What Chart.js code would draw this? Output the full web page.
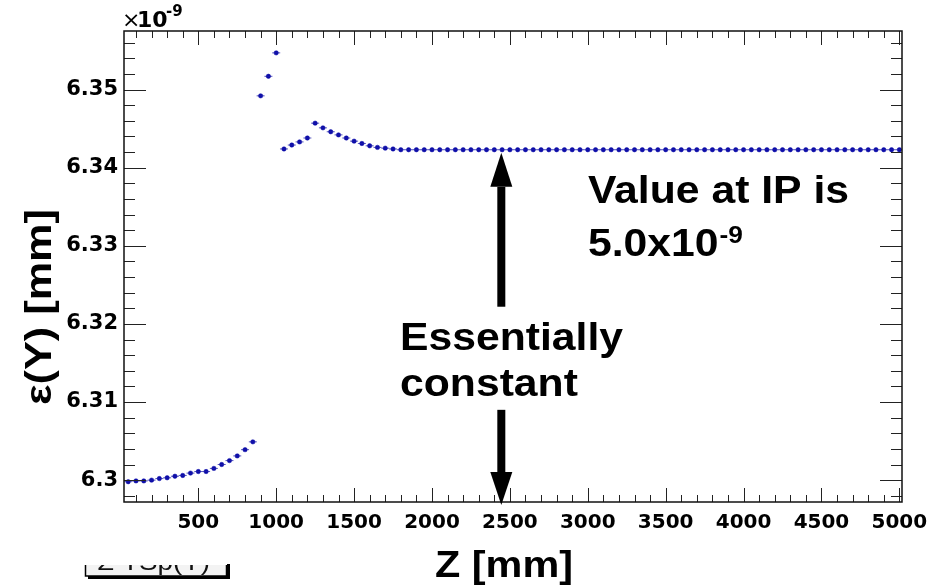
<!DOCTYPE html>
<html>
<head>
<meta charset="utf-8">
<script src="https://cdn.jsdelivr.net/npm/chart.js@4.4.1/dist/chart.umd.min.js"></script>
<style>
  html, body { margin: 0; padding: 0; background: #fff; }
</style>
</head>
<body>
<canvas id="myChart" width="941" height="588"></canvas>
<script>
// position along the beam line (mm)
var zMm = [
  50, 100, 150, 200, 250, 300, 350, 400, 450, 500,
  550, 600, 650, 700, 750, 800, 850, 900, 950, 1000,
  1050, 1100, 1150, 1200, 1250, 1300, 1350, 1400, 1450, 1500,
  1550, 1600, 1650, 1700, 1750, 1800, 1850, 1900, 1950, 2000,
  2050, 2100, 2150, 2200, 2250, 2300, 2350, 2400, 2450, 2500,
  2550, 2600, 2650, 2700, 2750, 2800, 2850, 2900, 2950, 3000,
  3050, 3100, 3150, 3200, 3250, 3300, 3350, 3400, 3450, 3500,
  3550, 3600, 3650, 3700, 3750, 3800, 3850, 3900, 3950, 4000,
  4050, 4100, 4150, 4200, 4250, 4300, 4350, 4400, 4450, 4500,
  4550, 4600, 4650, 4700, 4750, 4800, 4850, 4900, 4950, 5000
];

// vertical emittance, in units of 1e-9 mm
var emitY = [
  6.2998, 6.2999, 6.2999, 6.3000, 6.3002, 6.3003, 6.3005, 6.3006, 6.3009, 6.3011,
  6.3011, 6.3015, 6.3020, 6.3025, 6.3031, 6.3039, 6.3049, 6.3492, 6.3517, 6.3547,
  6.3424, 6.3429, 6.3433, 6.3438, 6.3457, 6.3451, 6.3446, 6.3442, 6.3438, 6.3434,
  6.3431, 6.3428, 6.3426, 6.3425, 6.3424, 6.3423, 6.3423, 6.3423, 6.3423, 6.3423,
  6.3423, 6.3423, 6.3423, 6.3423, 6.3423, 6.3423, 6.3423, 6.3423, 6.3423, 6.3423,
  6.3423, 6.3423, 6.3423, 6.3423, 6.3423, 6.3423, 6.3423, 6.3423, 6.3423, 6.3423,
  6.3423, 6.3423, 6.3423, 6.3423, 6.3423, 6.3423, 6.3423, 6.3423, 6.3423, 6.3423,
  6.3423, 6.3423, 6.3423, 6.3423, 6.3423, 6.3423, 6.3423, 6.3423, 6.3423, 6.3423,
  6.3423, 6.3423, 6.3423, 6.3423, 6.3423, 6.3423, 6.3423, 6.3423, 6.3423, 6.3423,
  6.3423, 6.3423, 6.3423, 6.3423, 6.3423, 6.3423, 6.3423, 6.3423, 6.3423, 6.3423
];

var xTickValues = [500, 1000, 1500, 2000, 2500, 3000, 3500, 4000, 4500, 5000];
var xTickLabels = ['500', '1000', '1500', '2000', '2500', '3000', '3500', '4000', '4500', '5000'];
var yTickValues = [6.30, 6.31, 6.32, 6.33, 6.34, 6.35];
var yTickLabels = ['6.3', '6.31', '6.32', '6.33', '6.34', '6.35'];

var points = zMm.map(function (z, i) { return { x: z, y: emitY[i] }; });

var BOLD = '"Liberation Sans", Arial, sans-serif';
var DJV = '"DejaVu Sans", sans-serif';

// draws text squeezed/stretched horizontally so it spans a given width
function fitText(ctx, text, x, y, width) {
  var w = ctx.measureText(text).width;
  ctx.save();
  ctx.translate(x, y);
  ctx.scale(width / w, 1);
  ctx.fillText(text, 0, 0);
  ctx.restore();
}

function textScaled(ctx, text, x, y, sx) {
  ctx.save();
  ctx.translate(x, y);
  ctx.scale(sx, 1);
  ctx.fillText(text, 0, 0);
  ctx.restore();
  return ctx.measureText(text).width * sx;
}

function arrow(ctx, x, yTail, yTip, headLen) {
  var dir = yTip < yTail ? -1 : 1;
  var yBase = yTip - dir * headLen;
  ctx.fillStyle = '#000';
  ctx.fillRect(x - 4, Math.min(yTail, yBase), 8, Math.abs(yBase - yTail));
  ctx.beginPath();
  ctx.moveTo(x, yTip);
  ctx.lineTo(x - 11, yBase);
  ctx.lineTo(x + 11, yBase);
  ctx.closePath();
  ctx.fill();
}

// frame, inner ticks, titles and notes
var framePlugin = {
  id: 'frame',
  afterDraw: function (chart) {
    var ctx = chart.ctx;
    var xs = chart.scales.x, ys = chart.scales.y;
    var L = chart.chartArea.left, R = chart.chartArea.right;
    var T = chart.chartArea.top, B = chart.chartArea.bottom;
    var k, p;

    ctx.save();
    ctx.strokeStyle = '#222';
    ctx.lineWidth = 1;
    ctx.beginPath();
    for (k = Math.ceil(ys.min * 500); k <= Math.floor(ys.max * 500); k++) {
      p = Math.round(ys.getPixelForValue(k / 500)) + 0.5;
      var ly = (k % 5 === 0) ? 22 : 11;
      ctx.moveTo(L, p); ctx.lineTo(L + ly, p);
      ctx.moveTo(R, p); ctx.lineTo(R - ly, p);
    }
    for (k = Math.ceil(xs.min / 100); k <= Math.floor(xs.max / 100); k++) {
      p = Math.round(xs.getPixelForValue(k * 100)) + 0.5;
      var lx = (k % 5 === 0) ? 14 : 7;
      ctx.moveTo(p, B); ctx.lineTo(p, B - lx);
      ctx.moveTo(p, T); ctx.lineTo(p, T + lx);
    }
    ctx.stroke();
    ctx.lineWidth = 1.5;
    ctx.strokeStyle = '#111';
    ctx.strokeRect(L, T, R - L, B - T);

    // exponent of the y axis
    ctx.fillStyle = '#000';
    ctx.textBaseline = 'alphabetic';
    ctx.textAlign = 'left';
    ctx.font = '22px ' + DJV;
    ctx.fillText('\u00d7', 122, 27);
    ctx.font = 'bold 22px ' + DJV;
    ctx.fillText('10', 137, 27);
    ctx.font = 'bold 15px ' + DJV;
    ctx.fillText('-9', 166, 16);

    // axis titles
    ctx.font = 'bold 37px ' + BOLD;
    ctx.textAlign = 'left';
    fitText(ctx, 'Z [mm]', 435, 577, 138);
    ctx.save();
    ctx.translate(51, 405);
    ctx.rotate(-Math.PI / 2);
    ctx.font = 'bold 36px ' + BOLD;
    fitText(ctx, '\u03b5(Y) [mm]', 0, 0, 196);
    ctx.restore();

    // arrows pointing at the flat part of the curve
    var zArrow = 2445;
    var ax = xs.getPixelForValue(zArrow);
    arrow(ctx, ax, ys.getPixelForValue(6.3222), ys.getPixelForValue(6.3419), 34);
    arrow(ctx, ax, ys.getPixelForValue(6.3090), ys.getPixelForValue(6.2968), 33);

    // notes
    ctx.fillStyle = '#000';
    ctx.font = 'bold 39px ' + BOLD;
    var sx = 261 / ctx.measureText('Value at IP is').width;
    textScaled(ctx, 'Value at IP is', 588, 203, sx);
    var w = textScaled(ctx, '5.0x10', 588, 256, sx);
    ctx.font = 'bold 24px ' + BOLD;
    textScaled(ctx, '-9', 588 + w + 1, 243, sx);
    ctx.font = 'bold 39px ' + BOLD;
    textScaled(ctx, 'Essentially', 400, 350, sx);
    textScaled(ctx, 'constant', 400, 396, sx);

    // stats box at the bottom left, partly cut off
    ctx.fillStyle = '#000';
    ctx.fillRect(88, 576, 142, 3);
    ctx.fillRect(227, 564, 3, 15);
    ctx.save();
    ctx.beginPath();
    ctx.rect(84, 565, 144, 12);
    ctx.clip();
    ctx.fillStyle = '#f3f3f3';
    ctx.fillRect(85, 550, 142, 26);
    ctx.strokeStyle = '#000';
    ctx.lineWidth = 1.5;
    ctx.strokeRect(85.5, 550, 141, 26);
    ctx.fillStyle = '#111';
    ctx.font = '24px ' + BOLD;
    fitText(ctx, '\u03a3 TSp(Y)', 97, 570, 113);
    ctx.restore();
    ctx.restore();
  }
};

var ctx = document.getElementById('myChart').getContext('2d');
var myChart = new Chart(ctx, {
  type: 'scatter',
  data: {
    datasets: [{
      // horizontal error bars
      data: points,
      pointStyle: 'line',
      pointRadius: 4,
      pointBorderWidth: 1,
      pointBorderColor: 'rgba(30,30,170,0.75)',
      showLine: false
    }, {
      data: points,
      pointStyle: 'circle',
      pointRadius: 2.2,
      pointBackgroundColor: '#0a0aa8',
      pointBorderColor: '#0a0aa8',
      pointBorderWidth: 0.5,
      showLine: false
    }]
  },
  options: {
    responsive: false,
    animation: false,
    layout: { padding: { left: 0, top: 31, right: 39, bottom: 0 } },
    plugins: {
      legend: { display: false },
      tooltip: { enabled: false }
    },
    scales: {
      x: {
        type: 'linear',
        min: 23,
        max: 5017,
        grid: { display: false, drawTicks: false },
        border: { display: false },
        afterBuildTicks: function (scale) {
          scale.ticks = xTickValues.map(function (v) { return { value: v }; });
        },
        afterFit: function (scale) { scale.height = 86; },
        ticks: {
          autoSkip: false,
          maxRotation: 0,
          padding: 9,
          color: '#000',
          font: { family: DJV, size: 20, weight: 'bold' },
          callback: function (v) {
            var i = xTickValues.indexOf(v);
            return i >= 0 ? xTickLabels[i] : '';
          }
        }
      },
      y: {
        type: 'linear',
        min: 6.2972,
        max: 6.3575,
        grid: { display: false, drawTicks: false },
        border: { display: false },
        afterBuildTicks: function (scale) {
          scale.ticks = yTickValues.map(function (v) { return { value: v }; });
        },
        afterFit: function (scale) { scale.width = 124; },
        ticks: {
          autoSkip: false,
          padding: 6,
          color: '#000',
          font: { family: DJV, size: 21, weight: 'bold' },
          callback: function (v) {
            for (var i = 0; i < yTickValues.length; i++) {
              if (Math.abs(yTickValues[i] - v) < 1e-6) return yTickLabels[i];
            }
            return '';
          }
        }
      }
    }
  },
  plugins: [framePlugin]
});
</script>
</body>
</html>
